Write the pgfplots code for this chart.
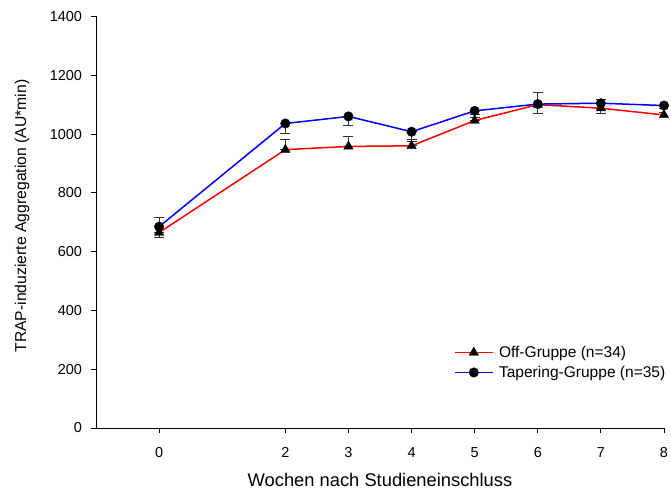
\documentclass[border=0pt]{standalone}
\usepackage{pgfplots}
\usepackage{pgfplotstable}
\pgfplotsset{compat=1.18}
\usepackage{fontspec}
\setmainfont{Liberation Sans}

\pgfplotstableread{
x y ep em
0 665 51 0
2 947 35 0
3 958 33 0
4 960 23 0
5 1046 22 0
6 1100 43 0
7 1088 31 0
8 1065 22 0
}\offdata

\pgfplotstableread{
x y ep em
0 685 0 38
2 1036 0 34
3 1060 0 32
4 1008 0 32
5 1079 0 22
6 1102 0 31
7 1105 0 36
8 1097 0 22
}\taperdata

\begin{document}
\begin{tikzpicture}
\useasboundingbox (-96bp,-73bp) rectangle (575bp,428bp);
\begin{axis}[
  at={(0,0)}, anchor=south west,
  scale only axis,
  width=568bp, height=411.5bp,
  xmin=-1, xmax=8, ymin=0, ymax=1400,
  axis x line*=bottom, axis y line*=left,
  x axis line style={shorten <=-5bp},
  axis line style={line width=0.8bp},
  xtick={0,2,3,4,5,6,7,8},
  ytick={0,200,...,1400},
  xticklabels={0,2,3,4,5,6,7,8},
  yticklabels={0,200,400,600,800,1000,1200,1400},
  tick align=outside,
  major tick length=5bp,
  tick style={black, line width=0.8bp},
  xticklabel style={yshift=-11bp, font=\fontsize{14.5}{17}\selectfont},
  yticklabel style={xshift=-5.5bp, font=\fontsize{14.5}{17}\selectfont},
  xlabel={Wochen nach Studieneinschluss},
  ylabel={TRAP-induzierte Aggregation (AU*min)},
  xlabel style={at={(axis description cs:0.5,-0.1264)}, anchor=center, font=\fontsize{18.4}{21}\selectfont},
  ylabel style={at={(axis description cs:-0.1303,0.515)}, anchor=center, font=\fontsize{15.8}{18}\selectfont},
  legend style={draw=none, fill=none, at={(0.630,0.203)}, anchor=north west, inner sep=0pt,
    nodes={inner xsep=5.5bp, inner ysep=1.5bp},
    font=\fontsize{15.6}{17}\selectfont, row sep=4.2bp},
  legend cell align=left,
  legend image code/.code={
    \draw[#1, mark=none] (0bp,0bp) -- (38bp,0bp);
    \draw[#1, draw=none] plot coordinates {(19bp,0bp)};
  },
]
% error bars first
\addplot[draw=none, no marks, forget plot,
  error bars/.cd, y dir=both, y explicit,
  error bar style={color=black!80, line width=1bp},
  error mark options={rotate=90, mark size=5bp, line width=1bp, color=black!80}]
  table[x=x, y=y, y error plus=ep, y error minus=em] {\offdata};
\addplot[draw=none, no marks, forget plot,
  error bars/.cd, y dir=both, y explicit,
  error bar style={color=black!80, line width=1bp},
  error mark options={rotate=90, mark size=5bp, line width=1bp, color=black!80}]
  table[x=x, y=y, y error plus=ep, y error minus=em] {\taperdata};
% lines with marks
\addplot[color=red, line width=1.5bp, mark=triangle*, mark size=5.5bp,
  mark options={fill=black, draw=black, line width=0.3bp}]
  table[x=x, y=y] {\offdata};
\addlegendentry{Off-Gruppe (n=34)}
\addplot[color=blue, line width=1.5bp, mark=*, mark size=4.8bp,
  mark options={fill=black, draw=black, line width=0.3bp}]
  table[x=x, y=y] {\taperdata};
\addlegendentry{Tapering-Gruppe (n=35)}
\end{axis}
\end{tikzpicture}
\end{document}
